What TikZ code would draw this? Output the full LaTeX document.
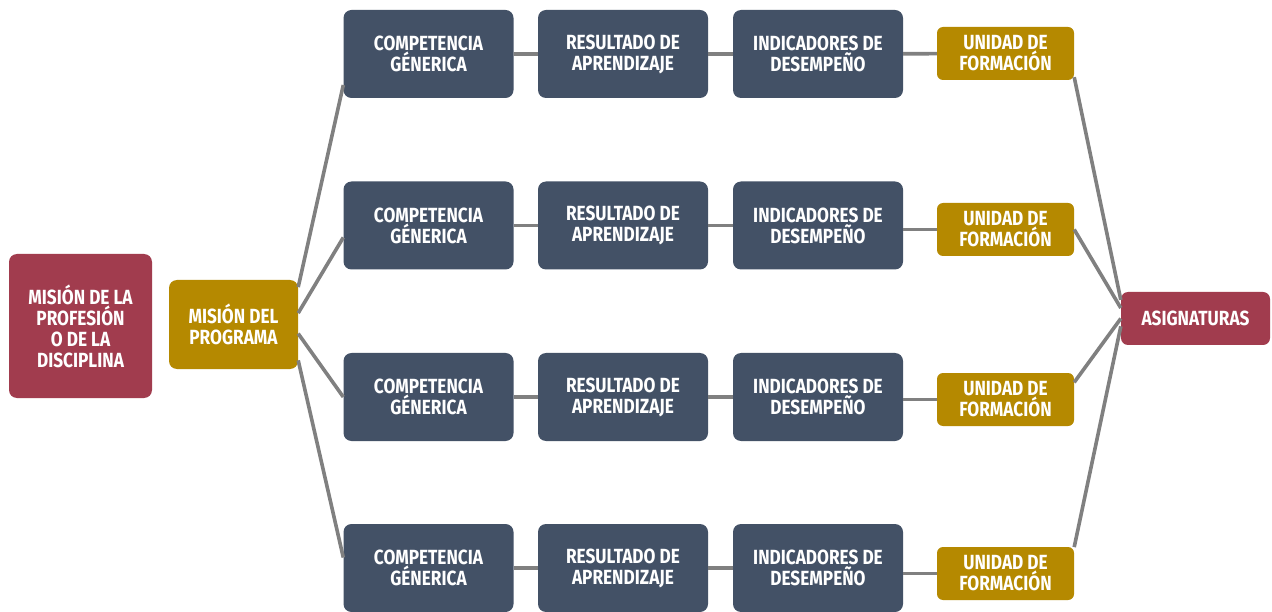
\documentclass[tikz,border=0pt]{standalone}
\usepackage{fontspec}
\setmainfont{Fira Sans}[FakeStretch=0.84]
\definecolor{slate}{HTML}{435166}
\definecolor{gold}{HTML}{B58900}
\definecolor{wine}{HTML}{A13C4E}
\definecolor{link}{HTML}{808080}
\tikzset{
  box/.style={rounded corners=8pt, inner sep=0pt, align=center, text=white,
    font=\fontsize{20.5}{21}\selectfont\bfseries},
  darkbox/.style={box, fill=slate, minimum width=170pt, minimum height=88pt},
  unitbox/.style={box, fill=gold, rounded corners=6pt, minimum width=137pt, minimum height=53pt},
  wire/.style={draw=link, line width=3.6pt}
}
\begin{document}
\begin{tikzpicture}[x=1pt, y=-1pt]
                \useasboundingbox[fill=white] (0,0) rectangle (1272,612);
                % left side
                \node[box, fill=wine, minimum width=143pt, minimum height=144pt] (mprof) at (80.5,326) {MISIÓN DE LA\\PROFESIÓN\\O DE LA\\DISCIPLINA};
                \node[box, fill=gold, minimum width=129pt, minimum height=89pt] (mprog) at (233.5,324.5) {MISIÓN DEL\\PROGRAMA};
                % row 1
                \node[darkbox] (comp1) at (428.5,54) {COMPETENCIA\\GÉNERICA};
                \node[darkbox] (res1) at (623,54) {RESULTADO DE\\APRENDIZAJE};
                \node[darkbox] (ind1) at (818,54) {INDICADORES DE\\DESEMPEÑO};
                \node[unitbox] (uni1) at (1005.5,53.5) {UNIDAD DE\\FORMACIÓN};
                % row 2
                \node[darkbox] (comp2) at (428.5,225.5) {COMPETENCIA\\GÉNERICA};
                \node[darkbox] (res2) at (623,225.5) {RESULTADO DE\\APRENDIZAJE};
                \node[darkbox] (ind2) at (818,225.5) {INDICADORES DE\\DESEMPEÑO};
                \node[unitbox] (uni2) at (1005.5,229.5) {UNIDAD DE\\FORMACIÓN};
                % row 3
                \node[darkbox] (comp3) at (428.5,397) {COMPETENCIA\\GÉNERICA};
                \node[darkbox] (res3) at (623,397) {RESULTADO DE\\APRENDIZAJE};
                \node[darkbox] (ind3) at (818,397) {INDICADORES DE\\DESEMPEÑO};
                \node[unitbox] (uni3) at (1005.5,399.5) {UNIDAD DE\\FORMACIÓN};
                % row 4
                \node[darkbox] (comp4) at (428.5,568) {COMPETENCIA\\GÉNERICA};
                \node[darkbox] (res4) at (623,568) {RESULTADO DE\\APRENDIZAJE};
                \node[darkbox] (ind4) at (818,568) {INDICADORES DE\\DESEMPEÑO};
                \node[unitbox] (uni4) at (1005.5,573.5) {UNIDAD DE\\FORMACIÓN};
                % right side
                \node[box, fill=wine, rounded corners=7pt, minimum width=149pt, minimum height=53pt] (asig) at (1195.5,318.5) {ASIGNATURAS};
                % fan out
                \draw[wire] (mprog.30) -- (comp1.200);
                \draw[wire] (mprog.10) -- (comp2.188);
                \draw[wire] (mprog.-8) -- (comp3.180);
                \draw[wire] (mprog.-29) -- (comp4.173);
                % rows
                \draw[wire] (comp1) -- (res1) -- (ind1) -- (uni1);
                \draw[wire] (comp2) -- (res2) -- (ind2);
                \draw[wire] (ind2.east |- uni2) -- (uni2.west);
                \draw[wire] (comp3) -- (res3) -- (ind3);
                \draw[wire] (ind3.east |- uni3) -- (uni3.west);
                \draw[wire] (comp4) -- (res4) -- (ind4);
                \draw[wire] (ind4.east |- uni4) -- (uni4.west);
                % fan in
                \draw[wire] (uni1.341) -- (asig.166);
                \draw[wire] (uni2.east) -- (asig.172);
                \draw[wire] (uni3.14) -- (asig.180);
                \draw[wire] (uni4.21) -- (asig.186);
            \end{tikzpicture}
\end{document}
